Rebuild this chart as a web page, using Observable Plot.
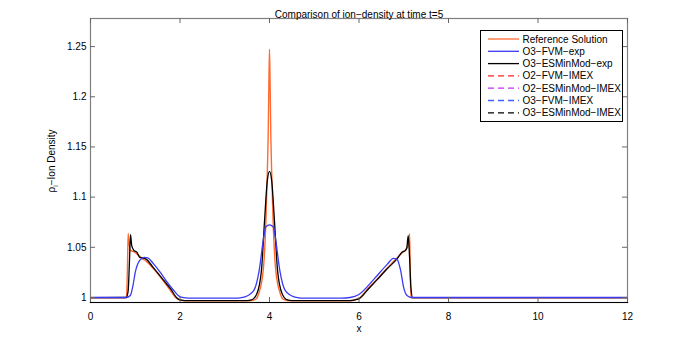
<!DOCTYPE html>
<html><head><meta charset="utf-8">
<script src="https://cdn.jsdelivr.net/npm/d3@7"></script>
<script src="https://cdn.jsdelivr.net/npm/@observablehq/plot@0.6"></script>
<style>
body{margin:0;background:#fff;}
#wrap{position:relative;width:692px;height:346px;font-family:"Liberation Sans",Arial,sans-serif;}
#legend{position:absolute;left:480px;top:30px;}
</style></head><body><div id="wrap"></div>
<script>
const titleText = "Comparison of ion−density at time t=5";
const xLabel = "x";
const xTicks = [0, 2, 4, 6, 8, 10, 12];
const yTicks = [1, 1.05, 1.1, 1.15, 1.2, 1.25];
const seriesNames = ["Reference Solution", "O3−FVM−exp", "O3−ESMinMod−exp", "O2−FVM−IMEX", "O2−ESMinMod−IMEX", "O3−FVM−IMEX", "O3−ESMinMod−IMEX"];
const seriesColors = ["#ff6a30", "#3a3af2", "#000000", "#ff2020", "#c52cf5", "#3f5fff", "#000000"];
const seriesDash = [null, null, null, "6,4", "6,4", "6,4", "6,4"];

// Reference Solution
const refX = [0, 0.7, 0.8, 0.815, 0.83, 0.842, 0.86, 0.89, 0.95, 1.05, 1.15, 1.25, 1.4, 1.6, 1.8, 1.9, 2.0, 2.2, 3.0, 3.5, 3.6, 3.7, 3.76, 3.86, 3.92, 3.952, 3.97, 3.985, 4.0, 4.015, 4.03, 4.048, 4.08, 4.14, 4.24, 4.3, 4.4, 4.5, 5.0, 5.8, 6.0, 6.05, 6.2, 6.4, 6.6, 6.8, 6.95, 7.05, 7.1, 7.13, 7.145, 7.16, 7.2, 8, 12];
const refY = [0.9997, 0.9997, 1.0, 1.01, 1.04, 1.0635, 1.055, 1.047, 1.046, 1.043, 1.039, 1.036, 1.029, 1.018, 1.006, 1.0, 0.9975, 0.9966, 0.9966, 0.9968, 0.997, 0.9985, 1.004, 1.027, 1.077, 1.126, 1.16, 1.209, 1.2475, 1.209, 1.16, 1.126, 1.077, 1.027, 1.004, 0.9985, 0.997, 0.9966, 0.9966, 0.9968, 0.999, 1.001, 1.009, 1.018, 1.028, 1.037, 1.044, 1.048, 1.052, 1.0635, 1.03, 1.0, 0.9997, 0.9997, 0.9997];

// O3-FVM-exp
const fvmX = [0, 0.8, 0.89, 0.95, 1.0, 1.1, 1.2, 1.28, 1.4, 1.56, 1.7, 1.86, 1.96, 2.05, 2.2, 3.3, 3.45, 3.65, 3.77, 3.87, 3.92, 4.0, 4.08, 4.13, 4.23, 4.35, 4.55, 4.7, 5.6, 5.8, 6.0, 6.33, 6.63, 6.77, 6.85, 6.93, 7.0, 7.08, 7.18, 12];
const fvmY = [1.0, 1.0, 1.002, 1.012, 1.025, 1.037, 1.040, 1.0395, 1.034, 1.025, 1.016, 1.007, 1.002, 1.0, 0.9994, 0.9994, 1.0005, 1.007, 1.027, 1.06, 1.0705, 1.0723, 1.0705, 1.06, 1.027, 1.007, 1.0005, 0.9994, 0.9994, 1.0, 1.003, 1.018, 1.033, 1.039, 1.038, 1.027, 1.0096, 1.0017, 1.0, 1.0];

// O3-ESMinMod-exp
const esmX = [0, 0.8, 0.84, 0.87, 0.894, 0.92, 0.97, 1.04, 1.1, 1.2, 1.25, 1.4, 1.6, 1.8, 1.92, 2.0, 2.1, 3.5, 3.6, 3.72, 3.82, 3.89, 3.95, 4.0, 4.05, 4.11, 4.18, 4.28, 4.4, 4.5, 5.8, 5.95, 6.0, 6.2, 6.4, 6.63, 6.85, 6.96, 7.04, 7.07, 7.1, 7.13, 7.16, 7.2, 12];
const esmY = [0.9998, 1.0, 1.006, 1.035, 1.0625, 1.052, 1.047, 1.045, 1.040, 1.039, 1.038, 1.030, 1.019, 1.008, 1.0, 0.9975, 0.9968, 0.9968, 0.9975, 1.004, 1.027, 1.077, 1.116, 1.1257, 1.116, 1.077, 1.027, 1.004, 0.9975, 0.9968, 0.9968, 0.998, 0.9987, 1.008, 1.0175, 1.0286, 1.0385, 1.045, 1.047, 1.05, 1.0617, 1.04, 1.01, 0.9998, 0.9998];

const toRows = (xs, ys) => xs.map((x, i) => ({x, y: ys[i]}));
const refRows = toRows(refX, refY);
const fvmRows = toRows(fvmX, fvmY);
const esmRows = toRows(esmX, esmY);

const W = 692, H = 346;
const plot = Plot.plot({
  width: W, height: H,
  marginLeft: 90, marginRight: 65, marginTop: 18, marginBottom: 44,
  style: {fontFamily: "'Liberation Sans', Arial, sans-serif", fontSize: "10px", background: "#fff", color: "#000"},
  x: {domain: [0, 12]},
  y: {domain: [0.995, 1.278]},
  marks: [
    Plot.line(refRows, {x: "x", y: "y", stroke: seriesColors[0], strokeWidth: 1.4, curve: "monotone-x", clip: true}),
    Plot.line(esmRows, {x: "x", y: "y", stroke: seriesColors[2], strokeWidth: 1.3, curve: "monotone-x", clip: true}),
    Plot.line(fvmRows, {x: "x", y: "y", stroke: seriesColors[1], strokeWidth: 1.3, curve: "monotone-x", clip: true}),
    Plot.frame({stroke: "#808080", strokeWidth: 1.2}),
    Plot.frame({anchor: "bottom", stroke: "#000", strokeWidth: 1.2}),
    Plot.tickX(xTicks, {x: d => d, insetTop: 279, stroke: "#666"}),
    Plot.tickX(xTicks, {x: d => d, insetBottom: 279, stroke: "#666"}),
    Plot.tickY(yTicks, {y: d => d, insetRight: 532, stroke: "#666"}),
    Plot.tickY(yTicks, {y: d => d, insetLeft: 532, stroke: "#666"}),
    Plot.axisX(xTicks, {anchor: "bottom", tickSize: 0, tickPadding: 10, label: null, tickFormat: d => String(d)}),
    Plot.axisY(yTicks, {anchor: "left", tickSize: 0, tickPadding: 4, label: null, tickFormat: d => String(d)}),
    Plot.text([xLabel], {frameAnchor: "bottom", dy: 29, text: d => d}),
    Plot.text([titleText], {frameAnchor: "top", dy: -8, text: d => d})
  ]
});
const wrap = document.getElementById("wrap");
wrap.appendChild(plot);

// y label with subscript
const svg = d3.select(plot);
const yl = svg.append("text")
  .attr("transform", "translate(55,161) rotate(-90)")
  .attr("text-anchor", "middle")
  .attr("font-size", 10)
  .attr("fill", "#000");
yl.append("tspan").text("ρ");
yl.append("tspan").attr("font-size", 7).attr("dy", 2.5).text("i");
yl.append("tspan").attr("dy", -2.5).text("−Ion Density");

// legend
const lw = 143, lh = 92;
const leg = d3.select(wrap).append("svg").attr("id", "legend")
  .attr("width", lw).attr("height", lh)
  .style("font-family", "'Liberation Sans', Arial, sans-serif").style("font-size", "10px");
leg.append("rect").attr("x", 0.5).attr("y", 0.5).attr("width", lw - 1).attr("height", lh - 1)
  .attr("fill", "#fff").attr("stroke", "#000").attr("stroke-width", 1);
seriesNames.forEach((name, i) => {
  const cy = 9 + i * 12.3;
  leg.append("line").attr("x1", 8).attr("x2", 39).attr("y1", cy).attr("y2", cy)
    .attr("stroke", seriesColors[i]).attr("stroke-width", 1.3)
    .attr("stroke-dasharray", seriesDash[i]);
  leg.append("text").attr("x", 42.5).attr("y", cy).attr("dy", "0.35em").text(name);
});
</script></body></html>
